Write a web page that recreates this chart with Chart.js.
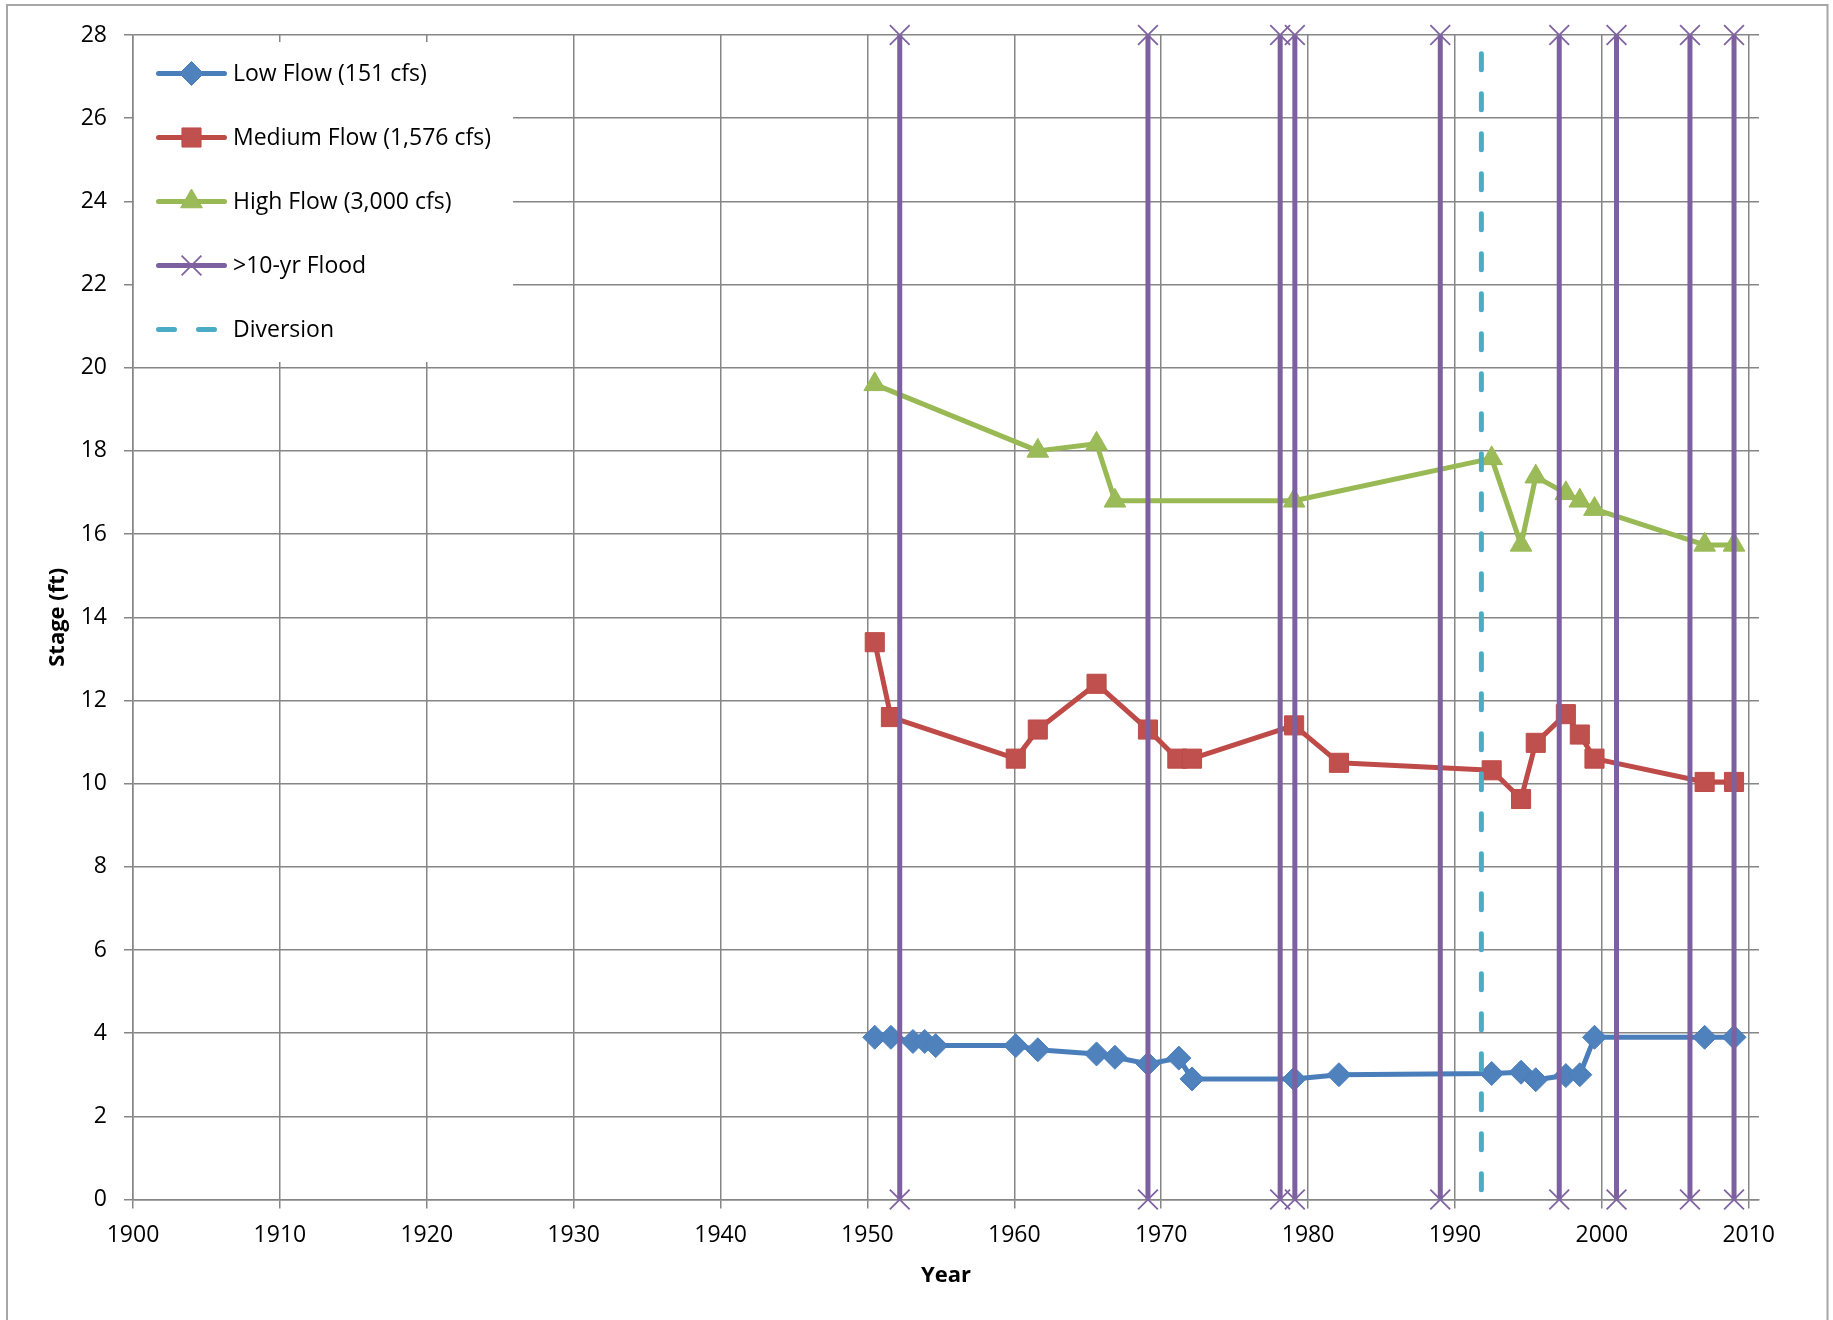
<!DOCTYPE html>
<html lang="en">
<head>
  <meta charset="UTF-8" />
  <title>Stage vs Year</title>
  <script src="https://cdn.jsdelivr.net/npm/chart.js"></script>
  <style>
    html, body { margin: 0; padding: 0; background: #fff; }
    #wrap { width: 1833px; height: 1320px; position: relative; }
  </style>
</head>
<body>
  <div id="wrap"><canvas id="stageChart" width="1833" height="1320"></canvas></div>

  <script>
    // values
    const lowYears = [1950.5, 1951.6, 1953.1, 1953.9, 1954.65, 1960.1, 1961.6, 1965.6, 1966.85, 1969.1, 1971.2, 1972.1,
                      1979.05, 1982.1, 1992.5, 1994.5, 1995.5, 1997.55, 1998.5, 1999.5, 2007.0, 2009.0];
    const lowStage = [3.9, 3.9, 3.8, 3.8, 3.7, 3.7, 3.6, 3.5, 3.42, 3.26, 3.4, 2.9,
                      2.9, 3.0, 3.03, 3.06, 2.88, 2.98, 3.0, 3.9, 3.9, 3.9];

    const medYears = [1950.5, 1951.6, 1960.1, 1961.6, 1965.6, 1969.1, 1971.1, 1972.1, 1979.05, 1982.1,
                      1992.5, 1994.5, 1995.5, 1997.55, 1998.5, 1999.5, 2007.0, 2009.0];
    const medStage = [13.4, 11.6, 10.6, 11.3, 12.4, 11.3, 10.6, 10.6, 11.4, 10.5,
                      10.32, 9.63, 10.98, 11.67, 11.18, 10.6, 10.04, 10.04];

    const highYears = [1950.5, 1961.6, 1965.6, 1966.85, 1979.05, 1992.5, 1994.5, 1995.5, 1997.55, 1998.5, 1999.5, 2007.0, 2009.0];
    const highStage = [19.6, 18.0, 18.17, 16.8, 16.8, 17.82, 15.74, 17.38, 16.98, 16.8, 16.6, 15.74, 15.74];

    const floodYears = [1952.2, 1969.1, 1978.1, 1979.1, 1989.0, 1997.1, 2001.0, 2006.0, 2009.0];
    const floodRange = [0, 28];

    const diversionYear = 1991.8;
    const diversionRange = [27.55, 0];

    const labels = ['Low Flow (151 cfs)', 'Medium Flow (1,576 cfs)', 'High Flow (3,000 cfs)', '>10-yr Flood', 'Diversion'];

    const toPts = (xs, ys) => xs.map((x, i) => ({ x: x, y: ys[i] }));

    // each flood is its own vertical segment, null breaks the line between them
    const floodPts = [];
    floodYears.forEach(yr => {
      floodPts.push({ x: yr, y: floodRange[0] }, { x: yr, y: floodRange[1] }, { x: yr, y: null });
    });

    const gridColor = '#868686';
    const tickFont = { family: '"Open Sans", sans-serif', size: 23 };
    const titleFont = { family: '"Open Sans", sans-serif', size: 22, weight: 'bold' };

    const seriesBase = {
      showLine: true, tension: 0, spanGaps: false, clip: false,
      borderJoinStyle: 'round', borderCapStyle: 'round'
    };

    // legend drawn inside the plot, like the original
    const insideLegend = {
      id: 'insideLegend',
      beforeDatasetsDraw(chart) {
        const ctx = chart.ctx;
        ctx.save();
        ctx.fillStyle = '#ffffff';
        ctx.fillRect(134, 42, 379, 320);
        ctx.font = '23px "Open Sans", sans-serif';
        ctx.textBaseline = 'middle';
        chart.data.datasets.forEach((ds, i) => {
          const y = 73.5 + i * 64;
          ctx.strokeStyle = ds.borderColor;
          ctx.lineWidth = ds.borderWidth;
          ctx.lineCap = 'round';
          ctx.setLineDash(ds.borderDash || []);
          ctx.beginPath();
          if (ds.borderDash) {
            ctx.moveTo(158.5, y);
            ctx.lineTo(214.5, y);
          } else {
            ctx.moveTo(158.5, y);
            ctx.lineTo(224.5, y);
          }
          ctx.stroke();
          ctx.setLineDash([]);
          if (ds.pointRadius > 0) {
            ctx.fillStyle = ds.pointBackgroundColor;
            ctx.strokeStyle = ds.pointBorderColor;
            ctx.lineWidth = ds.pointBorderWidth;
            ctx.lineCap = 'butt';
            Chart.helpers.drawPoint(ctx, {
              pointStyle: ds.pointStyle, radius: ds.pointRadius,
              borderWidth: ds.pointBorderWidth, rotation: 0
            }, 191.5, y);
          }
          ctx.fillStyle = '#000';
          ctx.fillText(ds.label, 233, y + 1);
        });
        ctx.restore();
      }
    };

    const outerFrame = {
      id: 'outerFrame',
      beforeDraw(chart) {
        const ctx = chart.ctx;
        ctx.save();
        ctx.strokeStyle = '#a6a6a6';
        ctx.lineWidth = 2;
        ctx.strokeRect(7, 5, 1820.5, 1400);
        ctx.restore();
      }
    };

    new Chart(document.getElementById('stageChart'), {
      type: 'scatter',
      data: {
        datasets: [
          Object.assign({}, seriesBase, {
            label: labels[0], data: toPts(lowYears, lowStage), order: 5,
            borderColor: '#4a7ebb', borderWidth: 5,
            pointStyle: 'rectRot', pointRadius: 12, pointBorderWidth: 1,
            pointBackgroundColor: '#4f81bd', pointBorderColor: '#4a7ebb'
          }),
          Object.assign({}, seriesBase, {
            label: labels[1], data: toPts(medYears, medStage), order: 4,
            borderColor: '#be4b48', borderWidth: 5,
            pointStyle: 'rect', pointRadius: 13.5, pointBorderWidth: 1,
            pointBackgroundColor: '#c0504d', pointBorderColor: '#be4b48'
          }),
          Object.assign({}, seriesBase, {
            label: labels[2], data: toPts(highYears, highStage), order: 3,
            borderColor: '#98b954', borderWidth: 5,
            pointStyle: 'triangle', pointRadius: 12.5, pointBorderWidth: 1,
            pointBackgroundColor: '#9bbb59', pointBorderColor: '#98b954'
          }),
          Object.assign({}, seriesBase, {
            label: labels[3], data: floodPts, order: 2,
            borderColor: '#7d60a0', borderWidth: 5, borderCapStyle: 'butt',
            pointStyle: 'crossRot', pointRadius: 14, pointBorderWidth: 1.8,
            pointBackgroundColor: '#8064a2', pointBorderColor: '#8064a2'
          }),
          Object.assign({}, seriesBase, {
            label: labels[4], order: 1,
            data: toPts([diversionYear, diversionYear], diversionRange),
            borderColor: '#4bacc6', borderWidth: 5, borderDash: [16, 24],
            pointRadius: 0, pointHoverRadius: 0
          })
        ]
      },
      options: {
        responsive: false,
        animation: false,
        events: [],
        layout: { padding: { left: 0, top: 35, right: 74, bottom: 0 } },
        plugins: {
          legend: { display: false },
          tooltip: { enabled: false }
        },
        scales: {
          x: {
            type: 'linear', min: 1900, max: 2010.7,
            afterFit: s => { s.height = 120.5; },
            grid: { color: gridColor, lineWidth: 1.5, tickLength: 9 },
            border: { color: gridColor, width: 1.5 },
            ticks: {
              stepSize: 10, includeBounds: false, autoSkip: false, maxRotation: 0,
              padding: 13, color: '#000', font: tickFont,
              callback: v => String(v)
            },
            title: { display: true, text: 'Year', color: '#000', font: titleFont, padding: { top: 0, bottom: 31 } }
          },
          y: {
            type: 'linear', min: 0, max: 28,
            afterFit: s => { s.width = 133; },
            grid: { color: gridColor, lineWidth: 1.5, tickLength: 9 },
            border: { color: gridColor, width: 1.5 },
            ticks: { stepSize: 2, padding: 17, color: '#000', font: tickFont },
            title: { display: true, text: 'Stage (ft)', color: '#000', font: titleFont, padding: { top: 45, bottom: 0 } }
          }
        }
      },
      plugins: [outerFrame, insideLegend]
    });
  </script>
</body>
</html>
